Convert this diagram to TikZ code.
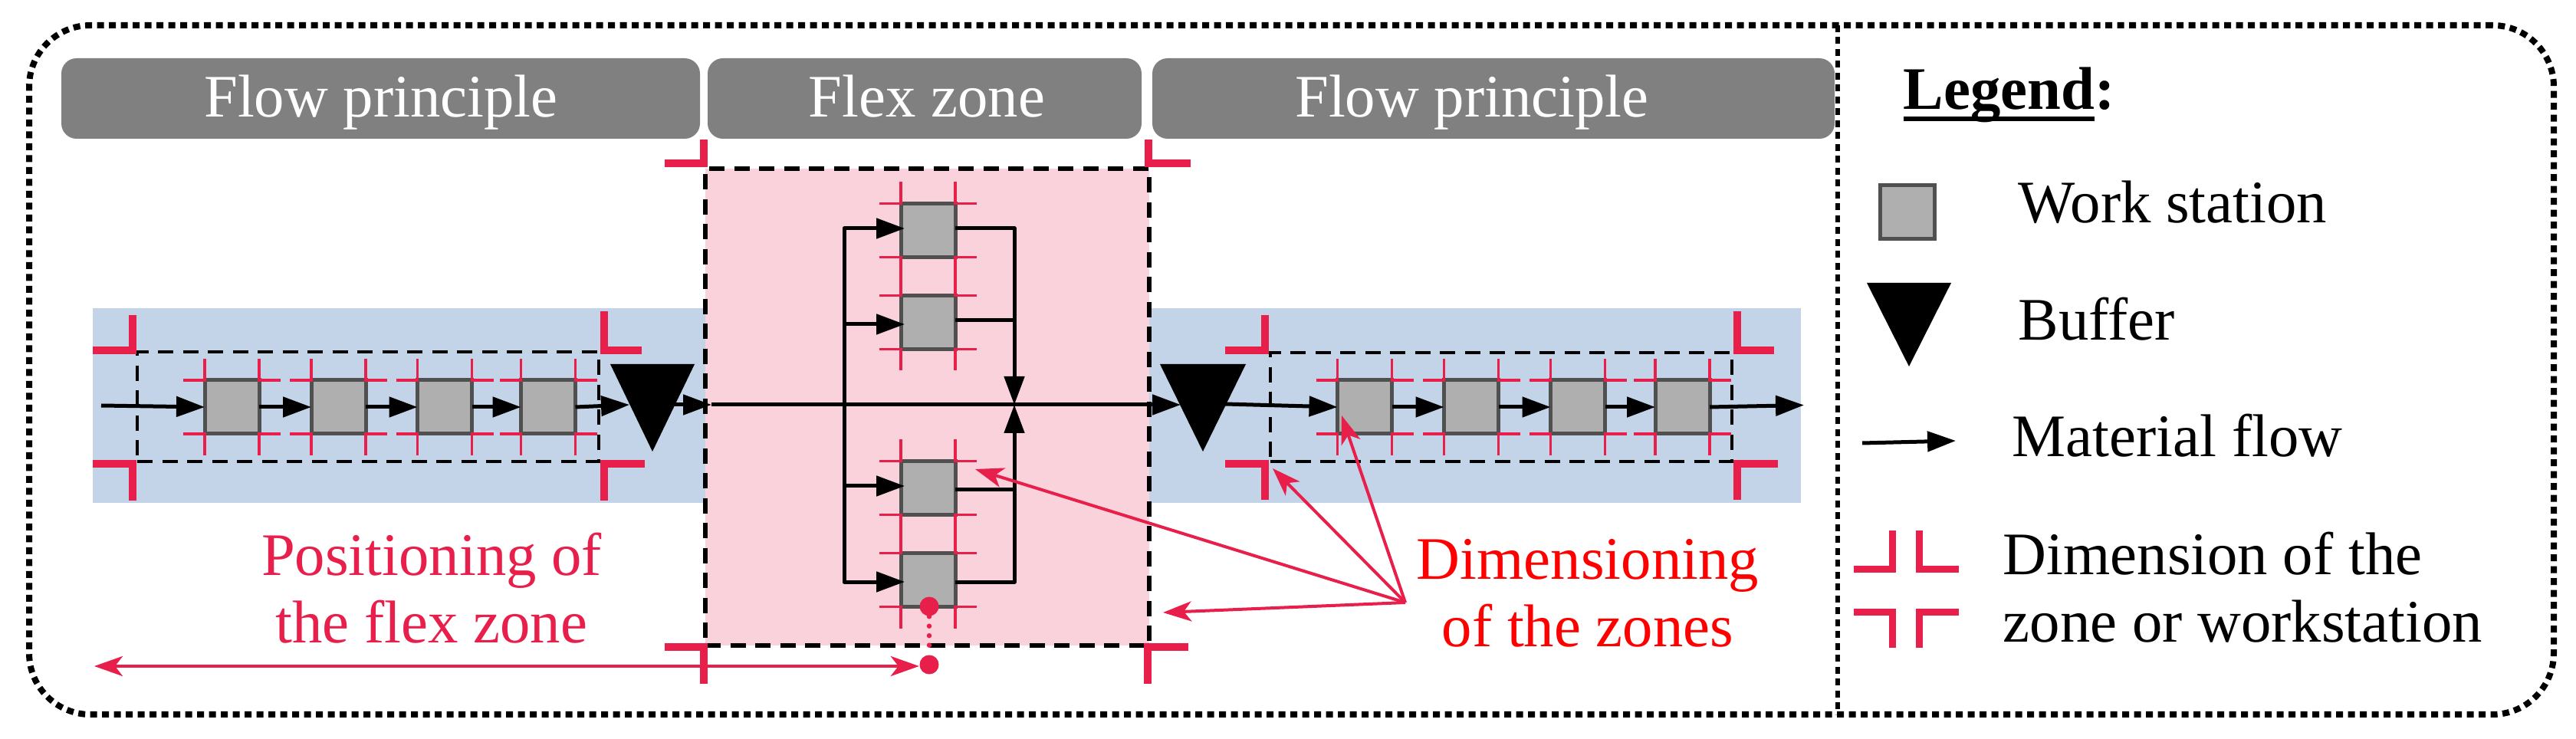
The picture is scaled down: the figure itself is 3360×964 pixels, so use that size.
\documentclass[tikz,border=0pt]{standalone}
\usepackage{fontspec}
\setmainfont{Liberation Serif}
\usetikzlibrary{arrows.meta,shapes.geometric,calc}

\definecolor{dimred}{HTML}{E71F4A}
\definecolor{bandblue}{HTML}{C3D4E8}
\definecolor{flexpink}{HTML}{F9D2DB}
\definecolor{wsgray}{HTML}{AFAFAF}
\definecolor{wsedge}{HTML}{505050}
\definecolor{headgray}{HTML}{808080}

\tikzset{
  txt/.style={font=\fontsize{22.4}{25}\selectfont, inner sep=0pt, anchor=base west},
  headbox/.style={fill=headgray, rounded corners=2mm, minimum height=10.5mm, inner sep=0pt},
  headtxt/.style={font=\fontsize{22.4}{25}\selectfont, inner sep=0pt, anchor=base, text=white},
  band/.style={fill=bandblue, inner sep=0pt},
  zone/.style={draw=black, line width=0.55mm, dash pattern=on 2mm off 1.25mm, inner sep=0pt},
  wsbox/.style={draw=wsedge, fill=wsgray, line width=0.5mm, minimum width=7.1mm, minimum height=7mm, inner sep=0pt, outer sep=0pt},
  bufbox/.style={fill=black, isosceles triangle, isosceles triangle stretches, shape border rotate=-90, inner sep=0pt, outer sep=0pt, anchor=apex},
  flow/.style={line width=0.5mm, line join=round, -{Triangle[length=3.7mm,width=2.6mm]}},
  flowplain/.style={line width=0.5mm, line join=round},
  dimthin/.style={draw=dimred, line width=0.35mm, line join=miter},
  dimthick/.style={draw=dimred, line width=1mm, line join=miter},
  reddot/.style={circle, fill=dimred, minimum size=2.5mm, inner sep=0pt},
  redarrow/.style={draw=dimred, line width=0.4mm, -{Stealth[length=3.7mm,width=2.6mm,inset=1mm]}},
  framedot/.style={draw=black, line width=0.8mm, dash pattern=on 0.9mm off 0.65mm}
}

% crop ticks round a work station
\newcommand{\wsmarks}[1]{
  \draw[dimthin] ($(#1.north west)+(-28,0)$) -- (#1.north west) -- ++(0,-28);
  \draw[dimthin] ($(#1.north east)+(28,0)$) -- (#1.north east) -- ++(0,-28);
  \draw[dimthin] ($(#1.south west)+(-28,0)$) -- (#1.south west) -- ++(0,28);
  \draw[dimthin] ($(#1.south east)+(28,0)$) -- (#1.south east) -- ++(0,28);
}
\newcommand{\thickunder}[1]{\setbox0=\hbox{#1}\rlap{\rule[-1.5mm]{\wd0}{0.55mm}}\box0}

\begin{document}
\begin{tikzpicture}[x=0.1mm, y=-0.1mm]
  \useasboundingbox (0,0) rectangle (3360,964);

  % frame
  \node[framedot, rounded corners=8mm, minimum width=329.3mm, minimum height=89.9mm, inner sep=0pt] (frame) at (1684.5,482.5) {};
  \coordinate (divtop) at (2397,33);
  \coordinate (divbot) at (2397,932);
  \draw[framedot, line width=0.6mm] (divtop) -- (divbot);

  % headers
  \node[headbox, minimum width=83.3mm] (headA) at (496.5,128.5) {};
  \node[headbox, minimum width=56.6mm] (headB) at (1206,128.5) {};
  \node[headbox, minimum width=89mm] (headC) at (1948,128.5) {};
  \node[headtxt] (labA) at (497,153) {Flow principle};
  \node[headtxt] (labB) at (1209,153) {Flex zone};
  \node[headtxt] (labC) at (1920,153) {Flow principle};

  % bands and zones
  \node[band, minimum width=79.9mm, minimum height=25.4mm] (bandL) at (520.5,529) {};
  \node[band, minimum width=85.1mm, minimum height=25.4mm] (bandR) at (1923.5,529) {};
  \node[zone, fill=flexpink, minimum width=57.9mm, minimum height=62.2mm] (flexzone) at (1209.5,531) {};
  \node[zone, line width=0.45mm, minimum width=60.2mm, minimum height=14.3mm] (zoneL) at (480,530.5) {};
  \node[zone, line width=0.45mm, minimum width=60.2mm, minimum height=14.2mm] (zoneR) at (1958,531) {};

  % work stations
  \node[wsbox] (ws1) at (302.5,531) {};
  \node[wsbox] (ws2) at (441.5,531) {};
  \node[wsbox] (ws3) at (580,531) {};
  \node[wsbox] (ws4) at (715,531) {};
  \node[wsbox] (ws5) at (1210.5,300.5) {};
  \node[wsbox] (ws6) at (1210.5,420.5) {};
  \node[wsbox] (ws7) at (1210.5,636.5) {};
  \node[wsbox] (ws8) at (1210.5,756.5) {};
  \node[wsbox] (ws9) at (1780,531) {};
  \node[wsbox] (ws10) at (1919,531) {};
  \node[wsbox] (ws11) at (2058,531) {};
  \node[wsbox] (ws12) at (2194.5,531) {};
  \foreach \ws in {ws1,ws2,ws3,ws4,ws5,ws6,ws7,ws8,ws9,ws10,ws11,ws12} {
    \wsmarks{\ws}
  }

  % buffers
  \node[bufbox, minimum width=11mm, minimum height=11.4mm] (bufL) at (851,589) {};
  \node[bufbox, minimum width=11.2mm, minimum height=11.4mm] (bufR) at (1569,589) {};

  % flow
  \coordinate (inL) at (132,529);
  \coordinate (bufLin) at (821,528);
  \coordinate (bufLout) at (877,528);
  \coordinate (mainL) at (928,528);
  \coordinate (bufRin) at (1540,528);
  \coordinate (bufRout) at (1598,527);
  \coordinate (outR) at (2353,528.5);
  \coordinate (splitc) at (1101,528);
  \coordinate (mergec) at (1323,528);
  \draw[flow] (inL) -- (ws1.west);
  \draw[flow] (ws1.east) -- (ws2.west);
  \draw[flow] (ws2.east) -- (ws3.west);
  \draw[flow] (ws3.east) -- (ws4.west);
  \draw[flow] (ws4.east) -- (bufLin);
  \draw[flow] (bufLout) -- (mainL);
  \draw[flow] (mainL) -- (bufRin);
  \draw[flow] (bufRout) -- (ws9.west);
  \draw[flow] (ws9.east) -- (ws10.west);
  \draw[flow] (ws10.east) -- (ws11.west);
  \draw[flow] (ws11.east) -- (ws12.west);
  \draw[flow] (ws12.east) -- (outR);

  \draw[flow, shorten >=-0.5mm] (splitc) |- ([yshift=0.25mm]ws5.west);
  \draw[flow, shorten >=-0.5mm] (splitc) |- ([yshift=-0.25mm]ws6.west);
  \draw[flow, shorten >=-0.5mm] (splitc) |- ([yshift=0.25mm]ws7.west);
  \draw[flow, shorten >=-0.5mm] (splitc) |- ([yshift=-0.25mm]ws8.west);
  \draw[flow] ([yshift=0.25mm]ws5.east) -| (mergec);
  \draw[flowplain] ([yshift=0.25mm]ws6.east) -- ++(78,0);
  \draw[flowplain] ([yshift=-0.25mm]ws7.east) -- ++(78,0);
  \draw[flow] ([yshift=-0.25mm]ws8.east) -| (mergec);

  % dimension corners
  \foreach \xe/\xc/\yc/\ye in {121/173/457/411, 837/788/457/406, 121/173/605/653, 841/788/605/653,
      867/918/213/182, 1553/1497.5/213/182, 867/918/844/892, 1550/1497/844/892,
      1598/1650/457/411, 2314/2266/457/406, 1598/1650/605/652, 2319/2266/605/652}
    \draw[dimthick] (\xe,\yc) -| (\xc,\ye);

  % red notes
  \node[txt, text=dimred, align=center, anchor=center] (posnote) at (563,767) {Positioning of\\the flex zone};
  \node[txt, text=red, align=center, anchor=center] (dimnote) at (2071,774) {Dimensioning\\of the zones};

  \node[reddot] (dotA) at (1212,791) {};
  \node[reddot] (dotB) at (1212,867) {};
  \coordinate (posleft) at (123,869);
  \draw[dimred, line width=0.65mm, line cap=round, dash pattern=on 0pt off 1.25mm] (dotA) -- (dotB);
  \draw[redarrow, {Stealth[length=3.7mm,width=2.6mm,inset=1mm]}-{Stealth[length=3.7mm,width=2.6mm,inset=1mm]}] (posleft) -- (dotB.west |- posleft);

  \coordinate (dimsrc) at (1833,786);
  \coordinate (tipflex) at (1272,612);
  \coordinate (tipzone) at (1517,799);
  \coordinate (tipright) at (1660,611);
  \coordinate (tipws) at (1750,542);
  \draw[redarrow] (dimsrc) -- (tipflex);
  \draw[redarrow] (dimsrc) -- (tipzone);
  \draw[redarrow] (dimsrc) -- (tipright);
  \draw[redarrow] (dimsrc) -- (tipws);

  % legend
  \node[txt] (legtitle) at (2482,143) {\textbf{\thickunder{Legend}:}};
  \node[wsbox] (legws) at (2487.5,277) {};
  \node[txt] (legwstxt) at (2632,291) {Work station};
  \node[bufbox, minimum width=11mm, minimum height=10.9mm] (legbuf) at (2490,478) {};
  \node[txt] (legbuftxt) at (2632,444) {Buffer};
  \coordinate (legflowa) at (2429,578);
  \coordinate (legflowb) at (2551,575);
  \draw[flow] (legflowa) -- (legflowb);
  \node[txt] (legflowtxt) at (2624,596) {Material flow};
  \foreach \xe/\xc/\yc/\ye in {2418/2468/743/692, 2555/2503/743/692, 2418/2468/798/845, 2555/2503/798/845}
    \draw[dimthick, line width=0.9mm] (\xe,\yc) -| (\xc,\ye);
  \node[txt, align=left, anchor=west] (legdimtxt) at (2612,766) {Dimension of the\\zone or workstation};
\end{tikzpicture}
\end{document}
